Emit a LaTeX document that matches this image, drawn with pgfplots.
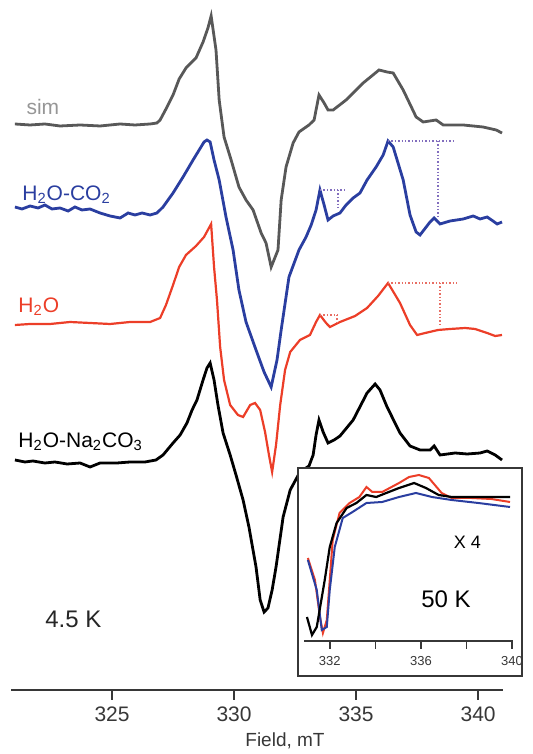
\documentclass[border=0pt]{standalone}
\usepackage{fontspec}
\setmainfont{Liberation Sans}
\usepackage{pgfplots}
\pgfplotsset{compat=1.18}

\definecolor{simgray}{RGB}{88,88,88}
\definecolor{simlabel}{RGB}{150,150,150}
\definecolor{eprblue}{RGB}{42,62,160}
\definecolor{eprred}{RGB}{236,62,40}
\definecolor{dotblue}{RGB}{130,110,190}
\definecolor{dotred}{RGB}{232,110,100}
\definecolor{axisgray}{RGB}{55,55,55}

\begin{document}
\begin{tikzpicture}
\path[use as bounding box] (-5.5pt,-32pt) rectangle (261pt,345pt);

% main spectra, 4.5 K (y = stacked, arbitrary offset)
\begin{axis}[
  at={(0,0)}, anchor=south west,
  scale only axis, width=246pt, height=340pt,
  xmin=320.86, xmax=341.02, ymin=64, ymax=744,
  axis x line=bottom, axis y line=none,
  axis line style={-, line width=1pt, color=axisgray},
  xtick={325,330,335,340},
  xtick align=outside, major tick length=5pt,
  tick style={line width=1pt, color=axisgray},
  ticklabel style={font=\fontsize{10.5}{12}\selectfont, text=axisgray},
  /pgf/number format/assume math mode=true,
  xlabel={Field, mT},
  xlabel style={font=\fontsize{9.5}{11}\selectfont, text=axisgray, xshift=14pt, yshift=1.5pt},
  clip=false,
]
% sim
\addplot[simgray, line width=1.4pt] coordinates {
(321.02,630)(321.64,629)(322.25,630)(322.87,628)(323.69,629)(324.51,628)(325.33,630)(325.94,629)(326.56,630)(326.84,631)
(326.97,634)(327.21,645)(327.50,659)(327.75,675)(328.03,686)(328.44,696)(328.73,712)(328.93,726)(329.06,738)
(329.26,704)(329.39,654)(329.59,617)(329.88,594)(330.20,567)(330.49,554)(330.78,544)(331.11,521)(331.31,511)(331.52,487)
(331.80,504)(331.93,554)(332.13,587)(332.42,611)(332.66,622)(333.07,629)(333.28,634)(333.48,659)(333.69,651)(333.85,644)
(334.06,644)(334.59,654)(335.29,671)(335.94,684)(336.27,682)(336.52,681)(336.93,664)(337.46,637)(337.75,632)(338.28,634)
(338.57,629)(339.39,629)(340.20,627)(340.74,624)(340.98,621)};
% H2O-CO2
\addplot[eprblue, line width=1.4pt] coordinates {
(321.02,547)(321.31,545)(321.64,548)(321.97,546)(322.25,549)(322.54,545)(322.87,546)(323.20,543)(323.48,547)(323.77,544)
(324.10,545)(324.51,541)(324.92,538)(325.33,536)(325.66,541)(325.94,539)(326.23,541)(326.56,539)(326.84,541)(327.09,547)
(327.50,561)(327.91,577)(328.32,594)(328.57,604)(328.77,612)(328.89,614)(329.02,612)(329.18,594)(329.39,574)(329.67,537)
(329.96,504)(330.20,464)(330.49,432)(330.90,404)(331.23,382)(331.52,367)(331.76,394)(331.93,424)(332.25,477)(332.66,504)
(332.95,517)(333.16,529)(333.36,544)(333.52,564)(333.69,549)(333.85,534)(334.06,538)(334.34,541)(334.59,549)(334.88,556)
(335.16,561)(335.45,574)(335.82,587)(336.11,599)(336.31,613)(336.52,607)(336.93,574)(337.21,539)(337.46,522)(337.62,519)
(338.03,532)(338.20,536)(338.44,530)(338.85,533)(339.39,535)(339.80,538)(340.08,535)(340.37,537)(340.61,533)(340.78,530)(340.98,532)};
\addplot[dotblue, densely dotted, line width=0.7pt] coordinates {(333.52,564)(334.63,564)};
\addplot[dotblue, densely dotted, line width=0.7pt] coordinates {(334.26,564)(334.26,544)};
\addplot[dotblue, densely dotted, line width=0.7pt] coordinates {(336.31,613)(339.06,613)};
\addplot[dotblue, densely dotted, line width=0.7pt] coordinates {(338.36,613)(338.36,537)};
% H2O
\addplot[eprred, line width=1.1pt] coordinates {
(321.02,429)(321.64,430)(322.46,430)(323.28,432)(324.10,431)(324.92,430)(325.74,432)(326.56,432)(326.97,436)(327.21,449)
(327.50,469)(327.75,487)(328.03,499)(328.44,508)(328.77,517)(329.06,530)(329.18,487)(329.30,454)(329.43,407)(329.59,374)
(329.84,349)(330.16,339)(330.37,337)(330.66,349)(330.86,351)(331.07,344)(331.27,322)(331.43,299)(331.56,282)(331.72,309)
(331.89,349)(332.09,384)(332.30,402)(332.70,414)(333.11,419)(333.36,432)(333.52,439)(333.77,431)(333.93,427)(334.34,432)
(334.96,438)(335.45,446)(335.90,458)(336.31,471)(336.80,451)(337.21,429)(337.50,419)(337.83,421)(338.36,424)(338.85,425)
(339.47,426)(339.88,425)(340.37,421)(340.70,418)(340.98,419)};
\addplot[dotred, densely dotted, line width=0.7pt] coordinates {(333.52,439)(334.34,439)};
\addplot[dotred, densely dotted, line width=0.7pt] coordinates {(334.22,439)(334.22,429)};
\addplot[dotred, densely dotted, line width=0.7pt] coordinates {(336.31,471)(339.14,471)};
\addplot[dotred, densely dotted, line width=0.7pt] coordinates {(338.44,471)(338.44,429)};
% H2O-Na2CO3
\addplot[black, line width=1.4pt] coordinates {
(321.02,294)(321.43,292)(321.76,293)(322.25,291)(322.66,292)(323.16,290)(323.69,291)(324.10,287)(324.51,291)(325.20,291)
(325.74,292)(326.35,292)(326.80,294)(327.09,299)(327.50,311)(327.79,319)(328.07,331)(328.28,344)(328.48,354)(328.73,374)
(328.89,386)(329.02,391)(329.18,374)(329.34,349)(329.55,321)(329.84,299)(330.08,279)(330.37,254)(330.61,227)(330.90,187)
(331.07,154)(331.23,142)(331.39,146)(331.56,164)(331.72,187)(332.01,237)(332.30,264)(332.70,282)(333.07,288)(333.24,299)
(333.36,319)(333.48,334)(333.65,322)(333.85,311)(334.10,314)(334.34,318)(334.88,334)(335.45,361)(335.78,370)(335.98,364)
(336.27,347)(336.80,321)(337.21,308)(337.62,304)(338.03,304)(338.20,308)(338.44,299)(339.06,301)(339.55,300)(340.08,301)
(340.37,303)(340.70,299)(340.98,294)};
\node[anchor=west, inner sep=0, text=simlabel, font=\fontsize{10.5}{12}\selectfont] at (axis cs:321.48,647) {sim};
\node[anchor=west, inner sep=0, text=eprblue, font=\fontsize{10.5}{12}\selectfont] at (axis cs:321.31,559) {H\textsubscript{2}O-CO\textsubscript{2}};
\node[anchor=west, inner sep=0, text=eprred, font=\fontsize{10.5}{12}\selectfont] at (axis cs:321.15,447) {H\textsubscript{2}O};
\node[anchor=west, inner sep=0, text=black, font=\fontsize{10.5}{12}\selectfont] at (axis cs:321.15,312) {H\textsubscript{2}O-Na\textsubscript{2}CO\textsubscript{3}};
\node[anchor=west, inner sep=0, text=black!85, font=\fontsize{12}{14}\selectfont] at (axis cs:322.25,135) {4.5 K};
\end{axis}

% inset frame
\draw[axisgray, line width=0.8pt, fill=white] (143.5pt,7pt) rectangle (255.5pt,111pt);

% inset, 50 K
\begin{axis}[
  at={(146.5pt,24.5pt)}, anchor=south west,
  scale only axis, width=104.5pt, height=86.5pt,
  xmin=330.87, xmax=340.04, ymin=113, ymax=286,
  axis x line=bottom, axis y line=none,
  axis line style={-, line width=0.8pt, color=axisgray},
  xtick={332,336,340}, minor xtick={334,338},
  xtick align=outside, major tick length=4pt, minor tick length=4pt,
  tick style={line width=0.8pt, color=axisgray},
  ticklabel style={font=\fontsize{6.5}{8}\selectfont, text=axisgray},
  /pgf/number format/assume math mode=true,
  clip=false,
]
\addplot[eprred, line width=1pt] coordinates {
(331.04,196)(331.35,174)(331.57,137)(331.70,121)(331.87,134)(332.00,174)(332.13,214)(332.43,241)(332.87,251)(333.30,257)
(333.61,267)(333.87,262)(334.30,262)(335.04,271)(335.48,277)(335.91,279)(336.35,276)(336.91,261)(337.35,256)(338.22,256)
(339.09,255)(339.91,252)};
\addplot[eprblue, line width=1pt] coordinates {
(331.04,194)(331.43,164)(331.65,124)(331.87,127)(332.00,164)(332.22,207)(332.57,236)(333.00,242)(333.61,251)(334.30,252)
(335.04,257)(335.78,261)(336.48,257)(337.35,254)(338.52,251)(339.91,247)};
\addplot[black, line width=1.1pt] coordinates {
(331.00,137)(331.22,119)(331.43,127)(331.78,174)(332.00,207)(332.30,231)(332.74,246)(333.17,251)(333.61,259)(334.04,257)
(334.48,261)(335.04,266)(335.70,271)(336.22,266)(336.78,259)(337.35,257)(338.52,257)(339.91,257)};
\node[anchor=west, inner sep=0, font=\fontsize{9}{11}\selectfont] at (axis cs:337.43,212) {X 4};
\node[anchor=west, inner sep=0, font=\fontsize{12}{14}\selectfont] at (axis cs:336.0,155) {50 K};
\end{axis}
\end{tikzpicture}
\end{document}
